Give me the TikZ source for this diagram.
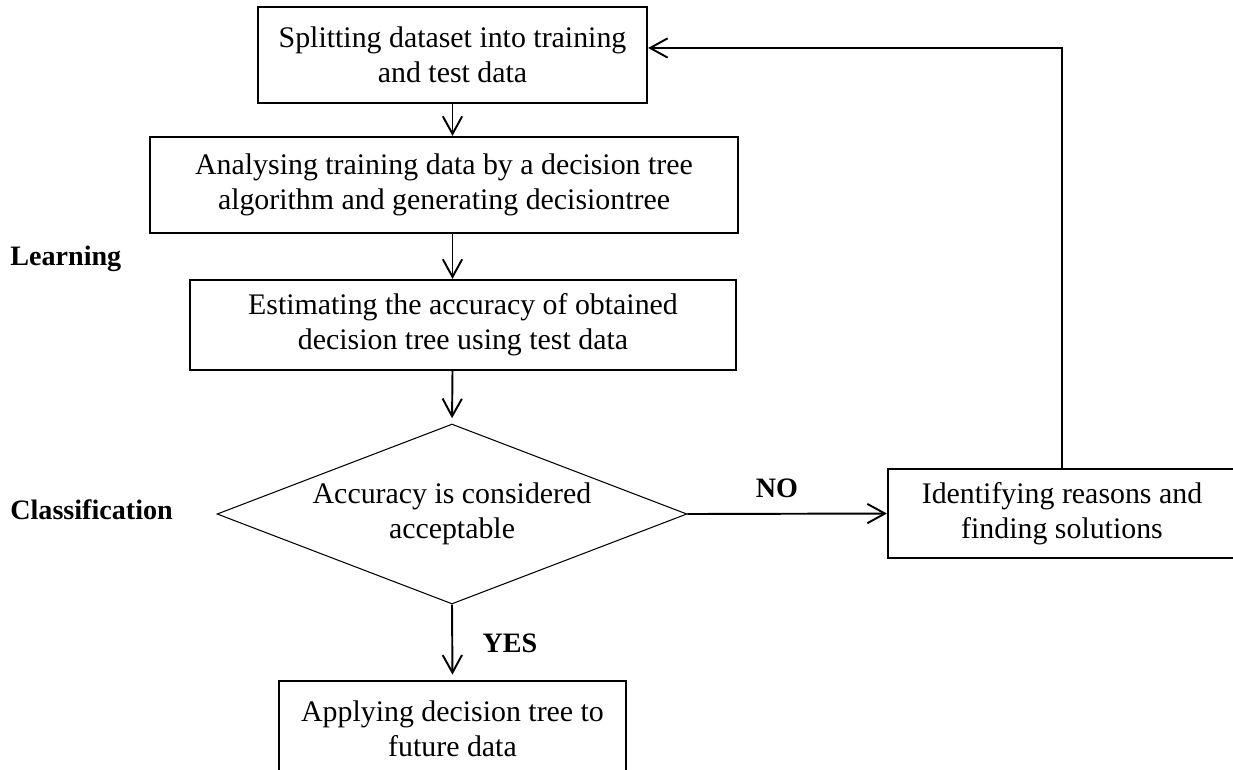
\documentclass[tikz,border=0pt]{standalone}
\usepackage{fontspec}
\setmainfont{Liberation Serif}
\usetikzlibrary{arrows.meta,shapes.geometric}
\newcommand{\flowsize}{\fontsize{17}{20}\selectfont}
\newcommand{\labsize}{\fontsize{16}{19}\selectfont}
\tikzset{
  blk/.style={draw, line width=1.3pt, align=center, inner sep=0pt, font=\flowsize},
  dec/.style={diamond, aspect=2.61, draw, line width=0.6pt, align=center, inner sep=0pt, font=\flowsize},
  arr/.style={-{Straight Barb[length=10pt,width=11pt]}, line width=1.1pt},
  lab/.style={font=\labsize\bfseries, inner sep=0pt},
}

\begin{document}
\begin{tikzpicture}[x=0.02cm, y=-0.02cm]
  \useasboundingbox (0,0) rectangle (1233,769);
  % learning steps
  \node[blk, minimum width=7.78cm, minimum height=1.92cm] (split) at (452.5,55)
    {Splitting dataset into training\\and test data};
  \node[blk, minimum width=11.76cm, minimum height=1.92cm] (analyse) at (444,185)
    {Analysing training data by a decision tree\\algorithm and generating decisiontree};
  \node[blk, minimum width=10.92cm, minimum height=1.8cm] (estimate) at (463,325)
    {Estimating the accuracy of obtained\\decision tree using test data};
  % classification
  \node[dec, minimum width=9.4cm, minimum height=3.6cm] (acc) at (452,514)
    {Accuracy is considered\\acceptable};
  \node[blk, minimum width=6.96cm, minimum height=1.78cm] (reasons) at (1062,513.5)
    {Identifying reasons and\\finding solutions};
  \node[blk, minimum width=6.94cm, minimum height=1.92cm] (apply) at (452.5,729)
    {Applying decision tree to\\future data};
  % phase labels
  \node[lab, anchor=west] (learn) at (10,259) {Learning};
  \node[lab, anchor=west] (classif) at (10,510) {Classification};
  \node[lab] (no) at (777,488) {NO};
  \node[lab] (yes) at (510,643) {YES};
  % connectors
  \draw[arr] (split.south) -- (split.south |- analyse.north);
  \draw[arr] (split.south |- analyse.south) -- (split.south |- estimate.north);
  \draw[arr, shorten >=3pt] (split.south |- estimate.south) -- (acc.north);
  \draw[arr, shorten >=3pt] (acc.south) -- (apply.north);
  \draw[arr] (acc.east) -- (reasons.west);
  \draw[arr] (reasons.north) |- ([yshift=4pt]split.east);
\end{tikzpicture}
\end{document}
